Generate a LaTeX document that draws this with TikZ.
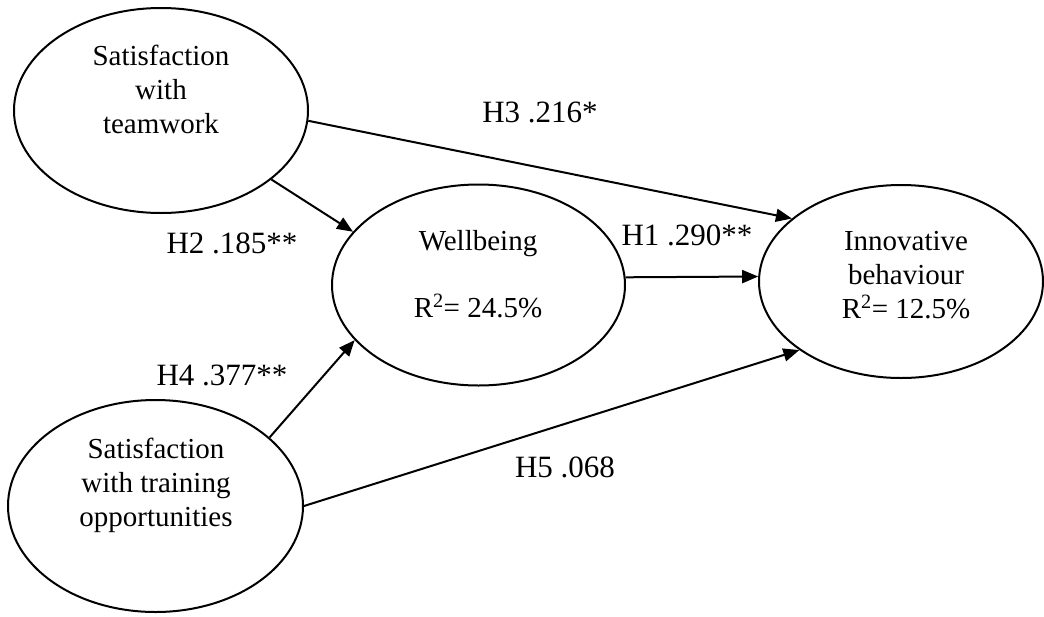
\documentclass[tikz,border=0pt]{standalone}
\usepackage{fontspec}
\setmainfont{Liberation Serif}
\usetikzlibrary{shapes.geometric,arrows.meta}
\tikzset{
  oval/.style={draw,ellipse,line width=2pt,inner sep=0pt},
  lbl/.style={font=\fontsize{29}{34}\selectfont,align=center,anchor=base},
  hyp/.style={font=\fontsize{31}{36}\selectfont,anchor=base},
  link/.style={line width=2pt,-{Triangle[length=16pt,width=13pt]}}
}
\begin{document}
\begin{tikzpicture}[x=1pt,y=-1pt]
\useasboundingbox (0,0) rectangle (1044,616);
% constructs
\node[oval,minimum width=294pt,minimum height=205pt] (team) at (161,110.5) {};
\node[oval,minimum width=293pt,minimum height=201pt] (well) at (478.5,285) {};
\node[oval,minimum width=284pt,minimum height=193pt] (innov) at (901,281.5) {};
\node[oval,minimum width=295pt,minimum height=212pt] (train) at (155.5,506) {};
% texts in the ovals (base = last line)
\node[lbl] (teamtxt) at (161,133) {Satisfaction\\with\\teamwork};
\node[lbl] (welltxt) at (478,317) {Wellbeing\\[33pt]R\textsuperscript{2}= 24.5\%};
\node[lbl] (innovtxt) at (906,318) {Innovative\\behaviour\\R\textsuperscript{2}= 12.5\%};
\node[lbl] (traintxt) at (156,526) {Satisfaction\\with training\\opportunities};
% paths
\draw[link] (team.-32.4) -- (well.157.5);
\draw[link] (team.-4.1) -- (innov.150.8);
\draw[link] (well.3) -- (innov.178);
\draw[link] (train.31.4) -- (well.204.9);
\draw[link] (train.east) -- (innov.214.5);
% hypotheses
\node[hyp] (h1) at (687,245) {H1 .290**};
\node[hyp] (h2) at (232,253) {H2 .185**};
\node[hyp] (h3) at (540,122) {H3 .216*};
\node[hyp] (h4) at (222,385) {H4 .377**};
\node[hyp] (h5) at (565,477) {H5 .068};
\end{tikzpicture}
\end{document}
